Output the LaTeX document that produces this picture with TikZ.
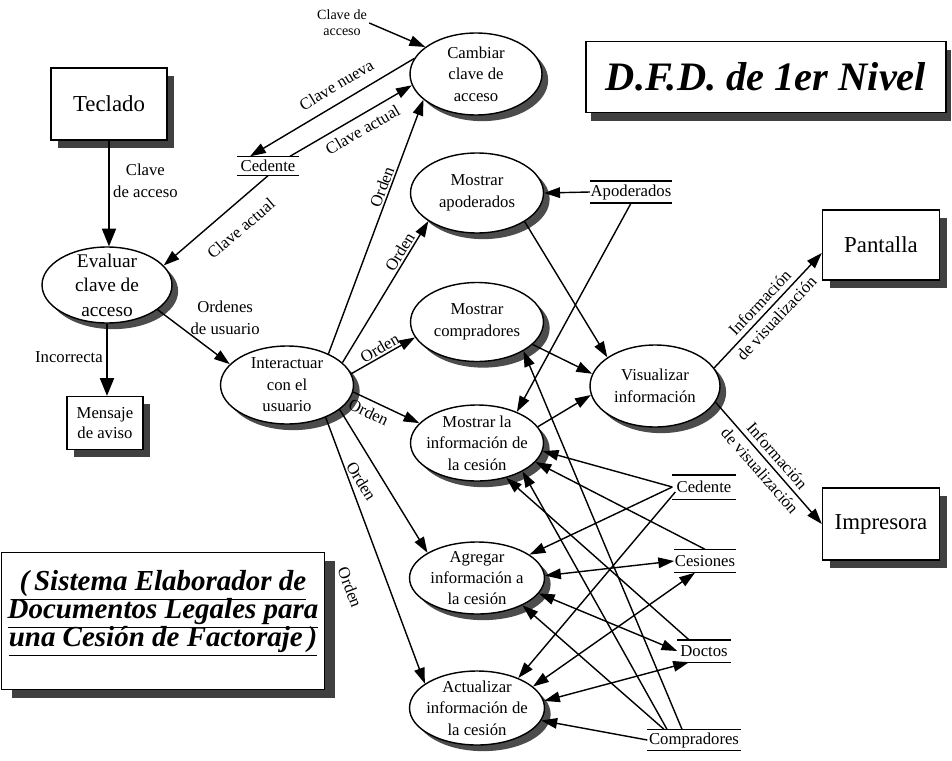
\documentclass[tikz,border=0pt]{standalone}
\usepackage{fontspec}
\setmainfont{Liberation Serif}
\usetikzlibrary{arrows.meta, shapes.geometric, shadows, calc}

\begin{document}
\begin{tikzpicture}[
    x=0.02cm, y=-0.02cm,
    line width=0.8pt,
    font=\fontsize{9.5}{12.2}\selectfont,
    proc/.style={
      ellipse, draw=black, fill=white,
      inner xsep=-4pt, inner ysep=-4pt, align=center,
      drop shadow={shadow xshift=3.5pt, shadow yshift=-3.5pt, fill=black!70, opacity=1}
    },
    ext/.style={
      draw=black, fill=white, align=center,
      font=\fontsize{13}{15}\selectfont,
      drop shadow={shadow xshift=4pt, shadow yshift=-4.5pt, fill=black!75, opacity=1}
    },
    banner/.style={
      draw=black, fill=white, align=center,
      font=\fontsize{23}{26}\selectfont\bfseries\itshape
    },
    store/.style={
      inner sep=0pt,
      append after command={(\tikzlastnode.north west) edge[-] (\tikzlastnode.north east)
                            (\tikzlastnode.south west) edge[-] (\tikzlastnode.south east)}
    },
    lbl/.style={font=\fontsize{9.5}{12}\selectfont, inner sep=2pt},
    vis/.style={font=\fontsize{9.5}{13}\selectfont, inner sep=2pt, sloped, align=center},
    arr/.style={-{Triangle[length=9pt, width=6pt]}},
    bigarr/.style={-{Triangle[length=10pt, width=8pt]}},
    bidir/.style={{Triangle[length=9pt, width=6pt]}-{Triangle[length=9pt, width=6pt]}}
  ]
  \useasboundingbox (0,0) rectangle (952,760);

  % ===== Titles =====
  \node[banner, minimum width=7.2cm, minimum height=1.42cm,
        drop shadow={shadow xshift=3pt, shadow yshift=-5pt, fill=black!75, opacity=1}]
        (titulo) at (766,77) {D.F.D. de 1er Nivel};
  \node[banner, minimum width=6.4cm, minimum height=2.74cm,
        font={\fontsize{16.5}{16}\selectfont\bfseries\itshape\setlength{\lineskiplimit}{-20pt}},
        drop shadow={shadow xshift=6pt, shadow yshift=-5pt, fill=black!75, opacity=1}]
        (sistema) at (163,621)
        {\underline{(\,Sistema Elaborador de}\\\underline{Documentos Legales para}\\\underline{una Cesión de Factoraje\,)}\rule[-14pt]{0pt}{14pt}};

  % ===== External entities =====
  \node[ext, minimum width=2.32cm, minimum height=1.44cm] (teclado) at (109,104) {Teclado};
  \node[ext, minimum width=1.52cm, minimum height=1.06cm,
        font=\fontsize{9.5}{11.3}\selectfont] (mensaje) at (105,423) {Mensaje\\de aviso};
  \node[ext, minimum width=2.34cm, minimum height=1.4cm] (pantalla) at (881,245) {Pantalla};
  \node[ext, minimum width=2.34cm, minimum height=1.44cm] (impresora) at (881,524) {Impresora};

  % ===== Processes =====
  \node[proc, minimum width=2.6cm, minimum height=1.52cm,
        font=\fontsize{11}{14}\selectfont] (evaluar) at (107,285) {Evaluar\\clave de\\acceso};
  \node[proc, minimum width=2.64cm, minimum height=1.64cm] (cambiar) at (476,74) {Cambiar\\clave de\\acceso};
  \node[proc, minimum width=2.66cm, minimum height=1.56cm] (interactuar) at (287,385) {Interactuar\\con el\\usuario};
  \node[proc, minimum width=2.66cm, minimum height=1.6cm] (mapod) at (477,193) {Mostrar\\apoderados};
  \node[proc, minimum width=2.66cm, minimum height=1.58cm] (mcomp) at (477,322) {Mostrar\\compradores};
  \node[proc, minimum width=2.66cm, minimum height=1.52cm] (minfo) at (477,443) {Mostrar la\\información de\\la cesión};
  \node[proc, minimum width=2.7cm, minimum height=1.44cm] (agregar) at (477,578) {Agregar\\información a\\la cesión};
  \node[proc, minimum width=2.7cm, minimum height=1.48cm] (actualizar) at (477,708) {Actualizar\\información de\\la cesión};
  \node[proc, minimum width=2.6cm, minimum height=1.64cm] (visualizar) at (655,386) {Visualizar\\información};

  % ===== Data stores =====
  \node[store, minimum width=1.2cm, minimum height=0.36cm] (cedA) at (268,166) {Cedente};
  \node[store, minimum width=1.54cm, minimum height=0.42cm] (sapod) at (631,192) {Apoderados};
  \node[store, minimum width=1.24cm, minimum height=0.46cm] (sced) at (704,487) {Cedente};
  \node[store, minimum width=1.2cm, minimum height=0.44cm] (sces) at (705,561) {Cesiones};
  \node[store, minimum width=1.04cm, minimum height=0.42cm] (sdoc) at (704,651) {Doctos};
  \node[store, minimum width=1.84cm, minimum height=0.4cm] (scomp) at (694,740) {Compradores};

  \node[font=\fontsize{8}{9}\selectfont, align=center, inner sep=1pt] (clavein) at (342,23) {Clave de\\acceso};

  % ===== Password flows =====
  \draw[bigarr] (teclado.south) -- (teclado.south |- evaluar.north)
    node[lbl, right, align=center, pos=0.38] {Clave\\de acceso};
  \draw[bigarr] (evaluar.south) -- (evaluar.south |- mensaje.north)
    node[lbl, left, pos=0.46] {Incorrecta};
  \draw[arr] (evaluar.-26) -- (interactuar.160)
    node[lbl, anchor=south west, align=center, inner sep=0pt, xshift=4pt, yshift=-3.5pt, pos=0.35] {Ordenes\\de usuario};
  \draw[arr] (cedA.south) -- (evaluar.19)
    node[lbl, sloped, below=7pt, pos=0.4] {Clave actual};
  \draw[arr] (cambiar.166) -- ($(cedA.north)+(-18,0)$)
    node[lbl, sloped, above=4pt, pos=0.42] {Clave nueva};
  \draw[arr] ($(cedA.north)+(22,0)$) -- (cambiar.190)
    node[lbl, sloped, below=2pt, pos=0.54] {Clave actual};
  \draw[arr] (clavein.east) -- (cambiar.152);

  % ===== Orders =====
  \draw[arr] (interactuar.37) -- (cambiar.206) node[lbl, sloped, above=-1pt, pos=0.645] {Orden};
  \draw[arr] (interactuar.22) -- (mapod.210) node[lbl, sloped, above=-1pt, pos=0.75] {Orden};
  \draw[arr] (interactuar.10) -- (mcomp.194) node[lbl, sloped, above=-1pt, pos=0.51] {Orden};
  \draw[arr] (interactuar.-6) -- (minfo.161) node[lbl, sloped, below=1pt, pos=0.31] {Orden};
  \draw[arr] (interactuar.-25) -- (agregar.153) node[lbl, sloped, below=5pt, pos=0.43] {Orden};
  \draw[arr] (interactuar.-40) -- (actualizar.155) node[lbl, sloped, below=15pt, pos=0.59] {Orden};

  % ===== Display =====
  \draw[arr] (mapod.-31) -- (visualizar.149);
  \draw[arr] (mcomp.-22) -- (visualizar.169);
  \draw[arr] (minfo.15) -- (visualizar.188);
  \draw[arr] (visualizar.17) -- ($(pantalla.west)+(0,8)$)
    node[vis, pos=0.5] {Información\\de visualización};
  \draw[arr] (visualizar.-15) -- (impresora.west)
    node[vis, pos=0.5] {Información\\de visualización};

  % ===== Data store flows =====
  \draw[arr] (sapod.west) -- (mapod.east);
  \draw[arr] (sapod.south) -- (minfo.38);
  \draw[arr] (sced.west) -- (minfo.-7);
  \draw[arr] (sces.north) -- (minfo.-18);
  \draw[arr] ($(sdoc.north)+(-15,0)$) -- (minfo.-50);
  \draw[arr] ($(scomp.north)+(-27,0)$) -- (minfo.-32);
  \draw[arr] ($(scomp.north)+(-12,0)$) -- (mcomp.-32);

  \draw[arr] (sced.west) -- (agregar.24);
  \draw[bidir] (agregar.2) -- (sces.west);
  \draw[bidir] (agregar.-14) -- (sdoc.west);
  \draw[arr] ($(scomp.north)+(-30,0)$) -- (agregar.-31);

  \draw[arr] ($(sced.west)+(3,5)$) -- (actualizar.36);
  \draw[bidir] (actualizar.21) -- ($(sces.south)+(-10,0)$);
  \draw[bidir] (actualizar.6) -- ($(sdoc.south)+(-15,0)$);
  \draw[arr] (scomp.west) -- (actualizar.-11);
\end{tikzpicture}
\end{document}
